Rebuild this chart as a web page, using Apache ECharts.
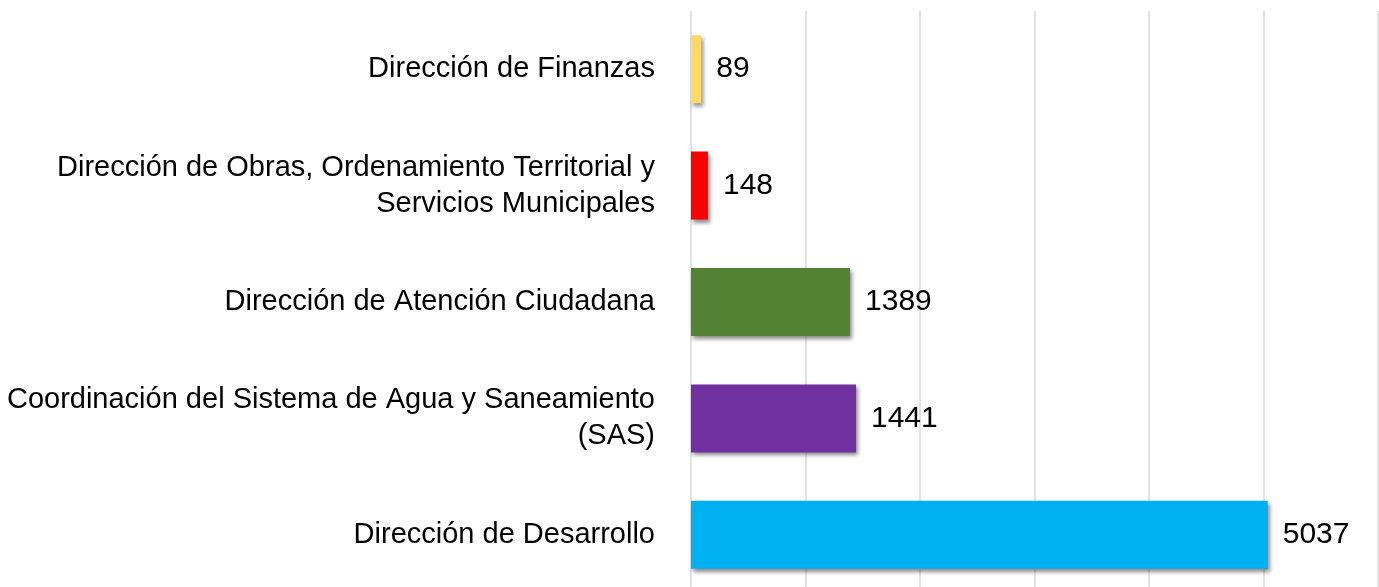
<!DOCTYPE html>
<html>
<head>
    <meta charset="UTF-8"/>
    <title>ECharts</title>
    <script src="https://cdn.jsdelivr.net/npm/echarts@6/dist/echarts.min.js"></script>
</head>
<body style="margin:0;">
<div id="main" style="width:1379px;height:587px;"></div>
<script>
    // categories, top to bottom
    var categories = [
        'Dirección de Finanzas',
        'Dirección de Obras, Ordenamiento Territorial y\nServicios Municipales',
        'Dirección de Atención Ciudadana',
        'Coordinación del Sistema de Agua y Saneamiento\n(SAS)',
        'Dirección de Desarrollo'
    ];
    var values = [89, 148, 1389, 1441, 5037];
    var colors = ['#FFD966', '#FF0000', '#548235', '#7030A0', '#00B0F0'];

    var myChart = echarts.init(document.getElementById('main'));

    var option = {
        animation: false,
        grid: {left: 691, right: 1, top: 11, height: 582, outerBoundsMode: 'none'},
        xAxis: {
            type: 'value',
            min: 0,
            max: 6000,
            interval: 1000,
            axisLabel: {show: false},
            axisLine: {show: false},
            axisTick: {show: false},
            splitLine: {lineStyle: {color: '#d9d9d9', width: 1.5}}
        },
        yAxis: {
            type: 'category',
            inverse: true,
            data: categories,
            axisLine: {show: false},
            axisTick: {show: false},
            axisLabel: {
                margin: 36,
                fontFamily: 'Liberation Sans, Arial, sans-serif',
                fontSize: 29,
                lineHeight: 36,
                color: '#000',
                align: 'right'
            }
        },
        series: [{
            type: 'bar',
            barWidth: 68,
            data: values.map(function (v, i) {
                return {value: v, itemStyle: {color: colors[i]}};
            }),
            itemStyle: {
                shadowColor: 'rgba(0,0,0,0.45)',
                shadowBlur: 4,
                shadowOffsetX: 2,
                shadowOffsetY: 3
            },
            label: {
                show: true,
                position: 'right',
                distance: 15,
                fontFamily: 'Liberation Sans, Arial, sans-serif',
                fontSize: 30,
                color: '#000'
            }
        }]
    };

    myChart.setOption(option);
</script>
</body>
</html>
